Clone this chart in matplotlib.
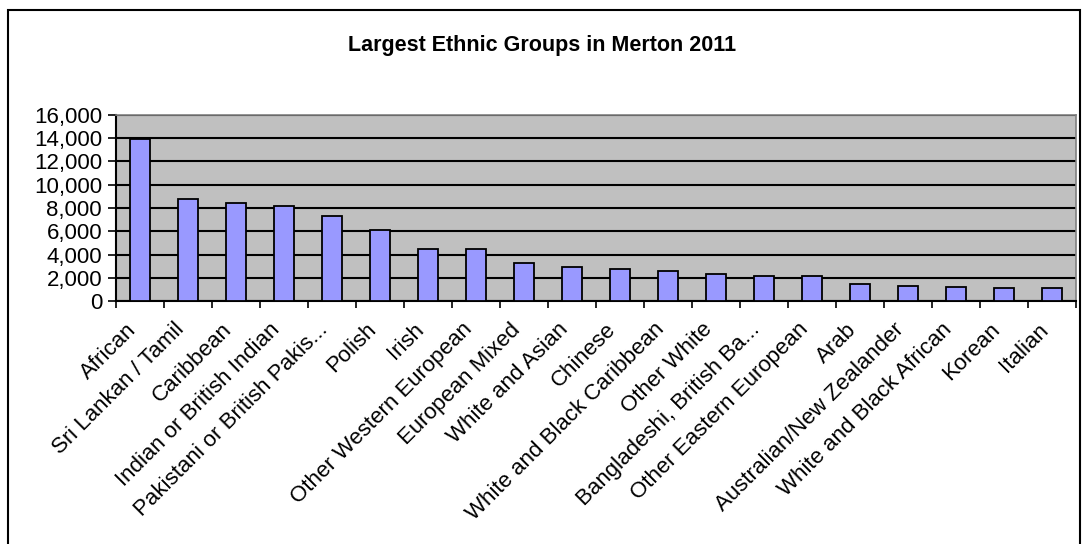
import matplotlib.pyplot as plt
from matplotlib.patches import Rectangle
from matplotlib.ticker import FuncFormatter, MultipleLocator
import numpy as np

groups = ['African', 'Sri Lankan / Tamil', 'Caribbean', 'Indian or British Indian',
          'Pakistani or British Pakis...', 'Polish', 'Irish', 'Other Western European',
          'European Mixed', 'White and Asian', 'Chinese', 'White and Black Caribbean',
          'Other White', 'Bangladeshi, British Ba...', 'Other Eastern European', 'Arab',
          'Australian/New Zealander', 'White and Black African', 'Korean', 'Italian']
population = [13900, 8750, 8400, 8200, 7350, 6150, 4500, 4480, 3300, 2920,
              2750, 2570, 2350, 2150, 2150, 1480, 1330, 1170, 1160, 1150]

plt.rcParams['font.family'] = ['Liberation Sans', 'DejaVu Sans']

fig = plt.figure(figsize=(10.84, 5.44), dpi=100)
fig.patches.append(Rectangle((8 / 1084, -0.1), 1072 / 1084, 1 - 10 / 544 + 0.1,
                             transform=fig.transFigure, fill=False,
                             edgecolor='black', linewidth=1.5))

ax = fig.add_axes([116 / 1084, 1 - 301 / 544, 960 / 1084, 186 / 544])
ax.set_facecolor('#C0C0C0')

x = np.arange(len(groups))
ax.bar(x, population, width=0.42, color='#9999FF', edgecolor='black', linewidth=1.3, zorder=3)

ax.set_xlim(-0.5, len(groups) - 0.5)
ax.set_ylim(0, 16000)
ax.yaxis.set_major_locator(MultipleLocator(2000))
ax.yaxis.set_major_formatter(FuncFormatter(lambda v, p: f'{int(v):,}'))
ax.grid(axis='y', color='black', linewidth=1.5, zorder=1)

# category labels sit slightly left of the bar centres, rotated 45 degrees
ax.set_xticks(x - 0.3)
ax.set_xticklabels(groups, rotation=45, ha='right', va='top', rotation_mode='anchor')
ax.tick_params(axis='x', length=0, pad=13, labelsize=16)
ax.set_xticks(np.arange(-0.5, len(groups)), minor=True)
ax.tick_params(axis='x', which='minor', length=5, width=1.2, color='black')
ax.tick_params(axis='y', length=6, width=1.2, pad=4, labelsize=16)

for side in ['left', 'bottom']:
    ax.spines[side].set_color('black')
    ax.spines[side].set_linewidth(1.5)
for side in ['top', 'right']:
    ax.spines[side].set_color('#808080')
    ax.spines[side].set_linewidth(1.2)

fig.text(0.5, 1 - 45 / 544, 'Largest Ethnic Groups in Merton 2011',
         ha='center', va='center', fontsize=15.5, fontweight='bold')

fig.savefig('out.png', dpi=100)
